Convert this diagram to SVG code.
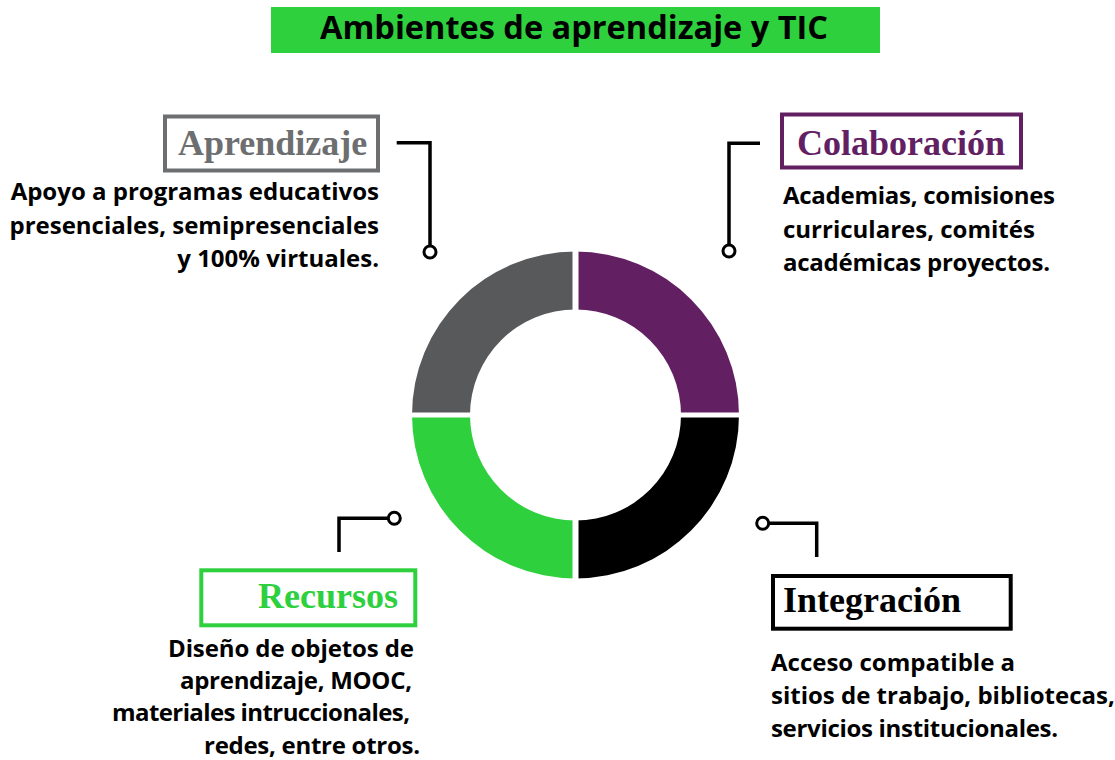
<svg xmlns="http://www.w3.org/2000/svg" width="1115" height="760" viewBox="0 0 1115 760">
<style>
.head{font-family:"Liberation Serif","Times New Roman",serif;font-weight:bold;font-size:36px}
.body{font-family:"Open Sans","Noto Sans",sans-serif;font-weight:bold;font-size:24px;fill:#000}
.box{fill:none;stroke-width:4}
.conn{fill:none;stroke:#000;stroke-width:3.5}
.dot{fill:#fff;stroke:#000;stroke-width:3}
</style>
<rect width="1115" height="760" fill="#fff"/>
<g id="title">
<rect x="271" y="7" width="609" height="46" fill="#2ed03e"/>
<text x="320" y="39" textLength="508" lengthAdjust="spacingAndGlyphs" style="font-family:'Open Sans','Noto Sans',sans-serif;font-weight:bold;font-size:33px" fill="#000">Ambientes de aprendizaje y TIC</text>
</g>
<g id="donut">
<path d="M412,415 A163.5,163.5 0 0 1 575.5,251.5 L575.5,309.5 A105.5,105.5 0 0 0 470,415 Z" fill="#58595b"/>
<path d="M575.5,251.5 A163.5,163.5 0 0 1 739,415 L681,415 A105.5,105.5 0 0 0 575.5,309.5 Z" fill="#622063"/>
<path d="M739,415 A163.5,163.5 0 0 1 575.5,578.5 L575.5,520.5 A105.5,105.5 0 0 0 681,415 Z" fill="#000"/>
<path d="M575.5,578.5 A163.5,163.5 0 0 1 412,415 L470,415 A105.5,105.5 0 0 0 575.5,520.5 Z" fill="#2ed03e"/>
<rect x="572.5" y="248" width="6" height="334" fill="#fff"/>
<rect x="408" y="412.5" width="335" height="5" fill="#fff"/>
</g>
<g id="connectors">
<path class="conn" d="M396.7,142.7 H430 V246"/>
<circle class="dot" cx="430" cy="252" r="6"/>
<path class="conn" d="M760,143.3 H729 V245"/>
<circle class="dot" cx="729" cy="251" r="6"/>
<path class="conn" d="M339,552 V518.3 H388"/>
<circle class="dot" cx="394.3" cy="518.3" r="6"/>
<path class="conn" d="M769,523.3 H816.7 V557"/>
<circle class="dot" cx="762.7" cy="523.3" r="6"/>
</g>
<g id="aprendizaje">
<rect class="box" x="165" y="116.5" width="213" height="54" stroke="#6d6e70"/>
<text class="head" x="178" y="155" fill="#6d6e70">Aprendizaje</text>
<text class="body" text-anchor="end"><tspan x="379" y="200">Apoyo a programas educativos</tspan><tspan x="379" y="234">presenciales, semipresenciales</tspan><tspan x="379" y="267">y 100% virtuales.</tspan></text>
</g>
<g id="colaboracion">
<rect class="box" x="782" y="114.5" width="239" height="53" stroke="#622063"/>
<text class="head" x="797" y="155" fill="#622063">Colaboración</text>
<text class="body"><tspan x="783" y="204" textLength="272">Academias, comisiones</tspan><tspan x="783" y="238">curriculares, comités</tspan><tspan x="783" y="271" textLength="267">académicas proyectos.</tspan></text>
</g>
<g id="recursos">
<rect class="box" x="201.3" y="570.3" width="214" height="55" stroke="#2ed03e"/>
<text class="head" x="258" y="608" fill="#2ed03e">Recursos</text>
<text class="body"><tspan x="168" y="657" textLength="246">Diseño de objetos de</tspan><tspan x="180" y="689" textLength="232">aprendizaje, MOOC,</tspan><tspan x="112" y="721" textLength="298">materiales intruccionales,</tspan><tspan x="204" y="754" textLength="216">redes, entre otros.</tspan></text>
</g>
<g id="integracion">
<rect class="box" x="773" y="576" width="237.7" height="52.7" stroke="#000"/>
<text class="head" x="783" y="612" fill="#000">Integración</text>
<text class="body"><tspan x="771" y="671">Acceso compatible a</tspan><tspan x="771" y="704">sitios de trabajo, bibliotecas,</tspan><tspan x="771" y="737" textLength="287">servicios institucionales.</tspan></text>
</g>
</svg>
